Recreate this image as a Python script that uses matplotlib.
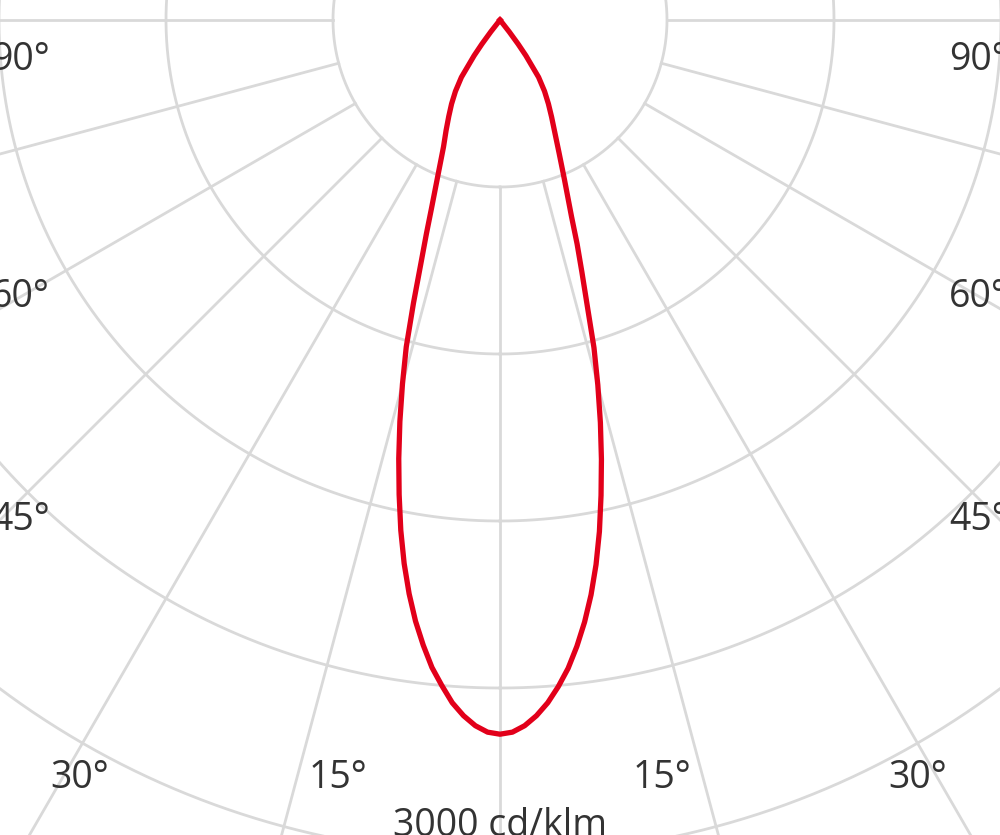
import numpy as np
import matplotlib
matplotlib.use("Agg")
from matplotlib import pyplot as plt

# luminous intensity, cd/klm, per gamma angle (deg from nadir)
angles = [0, 1, 2, 3, 4, 5, 6, 7, 8, 9, 10, 11, 12, 13, 14, 15, 16, 17, 18, 19,
          20, 22, 24, 26, 28, 30, 32, 34, 36, 37, 38, 39]
left_cd = [2566, 2559, 2537, 2503, 2459, 2400, 2339, 2263, 2181, 2087, 1983,
           1868, 1743, 1617, 1487, 1354, 1222, 1063, 920, 812, 719, 589, 499,
           442, 392, 348, 302, 248, 158, 108, 54, 0]
right_cd = [2566, 2559, 2537, 2503, 2459, 2404, 2342, 2267, 2184, 2091, 1987,
            1872, 1746, 1620, 1491, 1358, 1225, 1071, 952, 851, 751, 618, 521,
            449, 395, 348, 302, 248, 158, 108, 54, 0]

ring_values = [600, 1200, 1800, 2400, 3000]
spoke_angles = np.arange(-180, 181, 15)
scale_label = "3000 cd/klm"

W, H = 1000, 835
fig = plt.figure(figsize=(W / 100, H / 100), dpi=100)

# polar centre sits at pixel (500, 20); 3000 cd/klm -> 835 px
rmax = 4000
r_px = 835 * rmax / 3000
cx, cy = 500, H - 20
ax = fig.add_axes([(cx - r_px) / W, (cy - r_px) / H, 2 * r_px / W, 2 * r_px / H],
                  projection='polar')
ax.set_theta_zero_location('S')
ax.set_ylim(0, rmax)
ax.grid(False)
ax.set_xticks([])
ax.set_yticks([])
ax.spines['polar'].set_visible(False)
ax.patch.set_alpha(0)

grid_col = '#d9d9d9'
th = np.linspace(0, 2 * np.pi, 721)
for rv in ring_values:
    ax.plot(th, np.full_like(th, rv), color=grid_col, lw=2.0, zorder=1)
for a in spoke_angles:
    t = np.deg2rad(a)
    ax.plot([t, t], [ring_values[0], rmax], color=grid_col, lw=2.0, zorder=1)

# red curve: right half positive theta, left half negative
a = np.array(angles)
theta = np.concatenate([-np.deg2rad(a[::-1]), np.deg2rad(a[1:])])
r = np.concatenate([np.array(left_cd)[::-1], np.array(right_cd)[1:]])
ax.plot(theta, r, color='#e2001a', lw=3.8, zorder=3, solid_joinstyle='round')

txt = dict(fontsize=27, color='#333333', family=['Open Sans', 'DejaVu Sans'],
           va='center')

def put(x, y, s, ha):
    fig.text(x / W, 1 - y / H, s, ha=ha, **txt)

for y, s in [(60, "90°"), (297, "60°"), (520, "45°")]:
    put(50, y, s, 'right')
    put(949, y, s, 'left')
put(80, 778, "30°", 'center')
put(338, 778, "15°", 'center')
put(662, 778, "15°", 'center')
put(918, 778, "30°", 'center')
put(500, 826, scale_label, 'center')

fig.savefig("out.png", dpi=100)
